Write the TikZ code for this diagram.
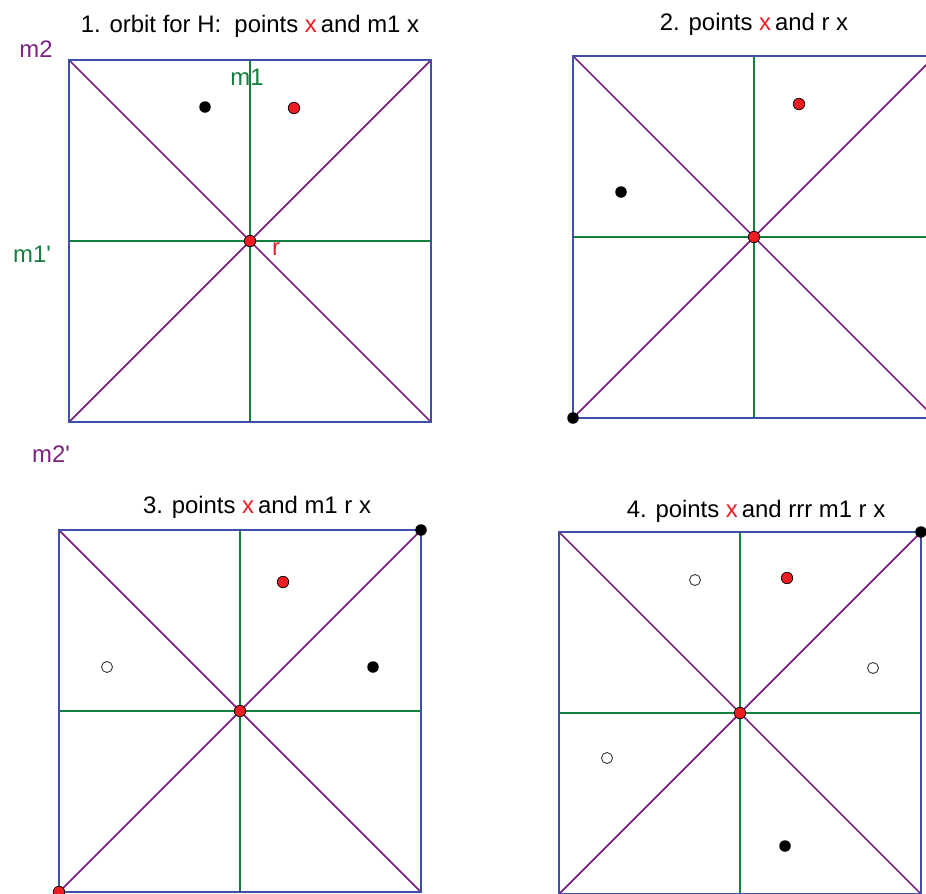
\documentclass[tikz,border=0pt]{standalone}
\usepackage{fontspec}
\setmainfont{Liberation Sans}[Ligatures=TeXOff]
\usetikzlibrary{positioning}
\definecolor{sqblue}{RGB}{62,80,168}
\definecolor{mgreen}{RGB}{20,128,62}
\definecolor{mpurple}{RGB}{124,34,128}
\definecolor{xred}{RGB}{236,30,36}
\begin{document}
\begin{tikzpicture}[x=0.02cm,y=-0.02cm,
 sq/.style={draw=sqblue,line width=1.2pt},
 mline/.style={draw=mgreen,line width=1.2pt},
 dline/.style={draw=mpurple,line width=1pt},
 lab/.style={anchor=base,inner sep=0pt,font=\fontsize{13.6}{16}\selectfont},
 dot/.style={circle,inner sep=0pt,minimum size=2.3mm,fill=black},
 rdot/.style={dot,fill=xred,draw=black,line width=0.4pt},
 odot/.style={circle,inner sep=0pt,minimum size=2.2mm,draw=black!80,fill=white,line width=0.5pt}]
\useasboundingbox (0,0) rectangle (926,893);
\clip (0,0) rectangle (926,893);
% squares with their mirror lines
\foreach \p/\cx/\cy in {a/250/241,b/754/237,c/240/711,d/740/713}{
 \coordinate (\p-c) at (\cx,\cy);
 \coordinate (\p-nw) at (\cx-181,\cy-181); \coordinate (\p-ne) at (\cx+181,\cy-181);
 \coordinate (\p-sw) at (\cx-181,\cy+181); \coordinate (\p-se) at (\cx+181,\cy+181);
 \coordinate (\p-n) at (\cx,\cy-181); \coordinate (\p-s) at (\cx,\cy+181);
 \coordinate (\p-w) at (\cx-181,\cy); \coordinate (\p-e) at (\cx+181,\cy);
 \draw[dline] (\p-nw) -- (\p-se) (\p-sw) -- (\p-ne);
 \draw[mline] (\p-n) -- (\p-s) (\p-w) -- (\p-e);
 \draw[sq] (\p-nw) rectangle (\p-se);
 \node[rdot] (\p-r) at (\p-c) {};
}
% titles
\node[lab] (t1) at (250,32) {1. orbit for H:\ \ points {\color{xred}x}\,and m1 x};
\node[lab] (t2) at (754,30) {2. points {\color{xred}x}\,and r x};
\node[lab] (t3) at (257,513) {3. points {\color{xred}x}\,and m1 r x};
\node[lab] (t4) at (756,517) {4. points {\color{xred}x}\,and rrr m1 r x};
% mirror names
\node[lab,mpurple] (m2) at (36,57) {m2};
\node[lab,mgreen] (m1) at (247,85) {m1};
\node[lab,mgreen] (m1p) at (32,262) {m1'};
\node[lab,xred] (r) at (276,255) {r};
\node[lab,mpurple] (m2p) at (51,462) {m2'};
% panel 1
\node[dot] (a-mx) at (205,107) {};
\node[rdot] (a-x) at (294,108) {};
% panel 2
\node[rdot] (b-x) at (799,104) {};
\node[dot] (b-rx) at (621,192) {};
\node[dot] (b-v) at (b-sw) {};
% panel 3
\node[rdot] (c-x) at (283,582) {};
\node[dot] (c-mrx) at (373,667) {};
\node[odot] (c-rx) at (107,667) {};
\node[dot] (c-v) at (c-ne) {};
\node[rdot] (c-w) at (c-sw) {};
% panel 4
\node[rdot] (d-x) at (787,578) {};
\node[odot] (d-o1) at (695,580) {};
\node[odot] (d-o2) at (873,668) {};
\node[odot] (d-o3) at (607,758) {};
\node[dot] (d-y) at (785,846) {};
\node[dot] (d-v) at (d-ne) {};
\end{tikzpicture}
\end{document}
